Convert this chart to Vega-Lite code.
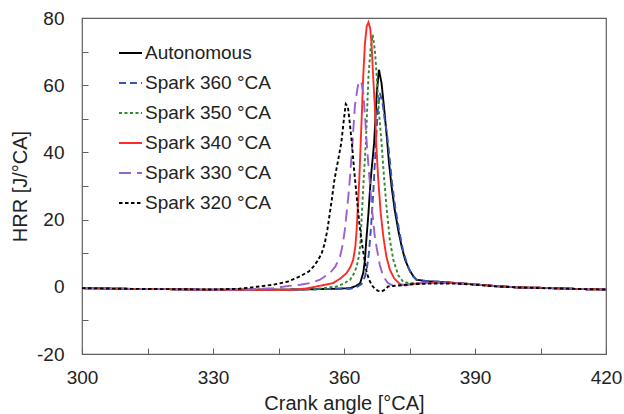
{
  "$schema": "https://vega.github.io/schema/vega-lite/v6.json",
  "width": 524,
  "height": 336,
  "autosize": {"type": "none"},
  "padding": {"left": 82, "top": 18, "right": 18, "bottom": 60},
  "background": "white",
  "config": {
    "font": "Liberation Sans",
    "view": {"stroke": "#606060", "strokeWidth": 1.2},
    "axis": {"grid": false, "domain": false, "tickColor": "#606060", "labelColor": "#222", "titleColor": "#222", "labelFont": "Liberation Sans", "titleFont": "Liberation Sans", "labelFontSize": 19, "titleFontSize": 20, "titleFontWeight": "normal"}
  },
  "data": {"values": [
    {"s": "Autonomous", "x": 300, "y": -0.4}, {"s": "Autonomous", "x": 310, "y": -0.6}, {"s": "Autonomous", "x": 320, "y": -0.7}, {"s": "Autonomous", "x": 330, "y": -0.9}, {"s": "Autonomous", "x": 340, "y": -0.9}, {"s": "Autonomous", "x": 350, "y": -0.8}, {"s": "Autonomous", "x": 358, "y": -0.6}, {"s": "Autonomous", "x": 361.4, "y": -0.4}, {"s": "Autonomous", "x": 362.8, "y": 0.3}, {"s": "Autonomous", "x": 363.7, "y": 1.1}, {"s": "Autonomous", "x": 364.4, "y": 4.1}, {"s": "Autonomous", "x": 364.8, "y": 8}, {"s": "Autonomous", "x": 365.0, "y": 12}, {"s": "Autonomous", "x": 365.6, "y": 21.9}, {"s": "Autonomous", "x": 366.1, "y": 31.8}, {"s": "Autonomous", "x": 366.9, "y": 42.8}, {"s": "Autonomous", "x": 367.5, "y": 57.6}, {"s": "Autonomous", "x": 368.0, "y": 64.6}, {"s": "Autonomous", "x": 368.6, "y": 60.6}, {"s": "Autonomous", "x": 369.2, "y": 53}, {"s": "Autonomous", "x": 369.8, "y": 44.7}, {"s": "Autonomous", "x": 370.3, "y": 37}, {"s": "Autonomous", "x": 370.9, "y": 29.8}, {"s": "Autonomous", "x": 371.6, "y": 23}, {"s": "Autonomous", "x": 372.4, "y": 17}, {"s": "Autonomous", "x": 373.2, "y": 12}, {"s": "Autonomous", "x": 374.0, "y": 8}, {"s": "Autonomous", "x": 375.0, "y": 5}, {"s": "Autonomous", "x": 375.9, "y": 3.1}, {"s": "Autonomous", "x": 376.6, "y": 2.1}, {"s": "Autonomous", "x": 379.7, "y": 1.6}, {"s": "Autonomous", "x": 383, "y": 1.4}, {"s": "Autonomous", "x": 387, "y": 1.0}, {"s": "Autonomous", "x": 391, "y": 0.6}, {"s": "Autonomous", "x": 395, "y": 0.2}, {"s": "Autonomous", "x": 400, "y": -0.2}, {"s": "Autonomous", "x": 405, "y": -0.3}, {"s": "Autonomous", "x": 410, "y": -0.5}, {"s": "Autonomous", "x": 415, "y": -0.7}, {"s": "Autonomous", "x": 420, "y": -0.8},

    {"s": "Spark 360 °CA", "x": 300, "y": -0.4}, {"s": "Spark 360 °CA", "x": 310, "y": -0.6}, {"s": "Spark 360 °CA", "x": 320, "y": -0.7}, {"s": "Spark 360 °CA", "x": 330, "y": -0.9}, {"s": "Spark 360 °CA", "x": 340, "y": -0.9}, {"s": "Spark 360 °CA", "x": 350, "y": -0.8}, {"s": "Spark 360 °CA", "x": 358, "y": -0.6}, {"s": "Spark 360 °CA", "x": 361.5, "y": -0.6}, {"s": "Spark 360 °CA", "x": 363, "y": 0}, {"s": "Spark 360 °CA", "x": 364, "y": 0.8}, {"s": "Spark 360 °CA", "x": 364.8, "y": 3}, {"s": "Spark 360 °CA", "x": 365.3, "y": 6}, {"s": "Spark 360 °CA", "x": 365.7, "y": 10}, {"s": "Spark 360 °CA", "x": 366.2, "y": 18}, {"s": "Spark 360 °CA", "x": 366.7, "y": 28}, {"s": "Spark 360 °CA", "x": 367.2, "y": 40}, {"s": "Spark 360 °CA", "x": 367.7, "y": 52}, {"s": "Spark 360 °CA", "x": 368.2, "y": 57.7}, {"s": "Spark 360 °CA", "x": 368.8, "y": 55}, {"s": "Spark 360 °CA", "x": 369.3, "y": 50}, {"s": "Spark 360 °CA", "x": 369.8, "y": 46}, {"s": "Spark 360 °CA", "x": 370.4, "y": 39}, {"s": "Spark 360 °CA", "x": 371.0, "y": 31}, {"s": "Spark 360 °CA", "x": 371.7, "y": 24}, {"s": "Spark 360 °CA", "x": 372.6, "y": 17}, {"s": "Spark 360 °CA", "x": 373.5, "y": 11}, {"s": "Spark 360 °CA", "x": 374.5, "y": 6.5}, {"s": "Spark 360 °CA", "x": 375.5, "y": 3.5}, {"s": "Spark 360 °CA", "x": 376.5, "y": 2.2}, {"s": "Spark 360 °CA", "x": 378, "y": 1.8}, {"s": "Spark 360 °CA", "x": 382, "y": 1.5}, {"s": "Spark 360 °CA", "x": 387, "y": 1.0}, {"s": "Spark 360 °CA", "x": 391, "y": 0.6}, {"s": "Spark 360 °CA", "x": 395, "y": 0.2}, {"s": "Spark 360 °CA", "x": 400, "y": -0.2}, {"s": "Spark 360 °CA", "x": 405, "y": -0.3}, {"s": "Spark 360 °CA", "x": 410, "y": -0.5}, {"s": "Spark 360 °CA", "x": 415, "y": -0.7}, {"s": "Spark 360 °CA", "x": 420, "y": -0.8},

    {"s": "Spark 350 °CA", "x": 300, "y": -0.4}, {"s": "Spark 350 °CA", "x": 310, "y": -0.6}, {"s": "Spark 350 °CA", "x": 320, "y": -0.7}, {"s": "Spark 350 °CA", "x": 330, "y": -0.9}, {"s": "Spark 350 °CA", "x": 340, "y": -0.9}, {"s": "Spark 350 °CA", "x": 350, "y": -0.8}, {"s": "Spark 350 °CA", "x": 355, "y": -0.5}, {"s": "Spark 350 °CA", "x": 358.3, "y": 0.1}, {"s": "Spark 350 °CA", "x": 360, "y": 1.0}, {"s": "Spark 350 °CA", "x": 361.4, "y": 2.1}, {"s": "Spark 350 °CA", "x": 362.3, "y": 4}, {"s": "Spark 350 °CA", "x": 362.9, "y": 6}, {"s": "Spark 350 °CA", "x": 363.4, "y": 9}, {"s": "Spark 350 °CA", "x": 363.7, "y": 12}, {"s": "Spark 350 °CA", "x": 364.1, "y": 21.9}, {"s": "Spark 350 °CA", "x": 364.5, "y": 31.8}, {"s": "Spark 350 °CA", "x": 365.0, "y": 42.8}, {"s": "Spark 350 °CA", "x": 365.6, "y": 62.6}, {"s": "Spark 350 °CA", "x": 366.1, "y": 71}, {"s": "Spark 350 °CA", "x": 366.6, "y": 75}, {"s": "Spark 350 °CA", "x": 367.1, "y": 70}, {"s": "Spark 350 °CA", "x": 367.5, "y": 62.6}, {"s": "Spark 350 °CA", "x": 368.0, "y": 52}, {"s": "Spark 350 °CA", "x": 368.6, "y": 42.8}, {"s": "Spark 350 °CA", "x": 369.2, "y": 32}, {"s": "Spark 350 °CA", "x": 369.8, "y": 22.9}, {"s": "Spark 350 °CA", "x": 370.5, "y": 14}, {"s": "Spark 350 °CA", "x": 371.3, "y": 8}, {"s": "Spark 350 °CA", "x": 372.4, "y": 3.5}, {"s": "Spark 350 °CA", "x": 373.6, "y": 1.4}, {"s": "Spark 350 °CA", "x": 375.5, "y": 1.1}, {"s": "Spark 350 °CA", "x": 378, "y": 1.2}, {"s": "Spark 350 °CA", "x": 382, "y": 1.3}, {"s": "Spark 350 °CA", "x": 387, "y": 1.0}, {"s": "Spark 350 °CA", "x": 391, "y": 0.6}, {"s": "Spark 350 °CA", "x": 395, "y": 0.2}, {"s": "Spark 350 °CA", "x": 400, "y": -0.2}, {"s": "Spark 350 °CA", "x": 405, "y": -0.3}, {"s": "Spark 350 °CA", "x": 410, "y": -0.5}, {"s": "Spark 350 °CA", "x": 415, "y": -0.7}, {"s": "Spark 350 °CA", "x": 420, "y": -0.8},

    {"s": "Spark 340 °CA", "x": 300, "y": -0.4}, {"s": "Spark 340 °CA", "x": 310, "y": -0.6}, {"s": "Spark 340 °CA", "x": 320, "y": -0.7}, {"s": "Spark 340 °CA", "x": 330, "y": -0.9}, {"s": "Spark 340 °CA", "x": 340, "y": -0.9}, {"s": "Spark 340 °CA", "x": 345, "y": -0.9}, {"s": "Spark 340 °CA", "x": 348, "y": -0.9}, {"s": "Spark 340 °CA", "x": 351.4, "y": -0.5}, {"s": "Spark 340 °CA", "x": 354.5, "y": 0.3}, {"s": "Spark 340 °CA", "x": 357.5, "y": 1.1}, {"s": "Spark 340 °CA", "x": 359.2, "y": 2.5}, {"s": "Spark 340 °CA", "x": 360.6, "y": 4.1}, {"s": "Spark 340 °CA", "x": 361.5, "y": 6}, {"s": "Spark 340 °CA", "x": 362.1, "y": 8}, {"s": "Spark 340 °CA", "x": 362.6, "y": 12}, {"s": "Spark 340 °CA", "x": 362.9, "y": 17}, {"s": "Spark 340 °CA", "x": 363.3, "y": 26.9}, {"s": "Spark 340 °CA", "x": 363.5, "y": 31.8}, {"s": "Spark 340 °CA", "x": 363.8, "y": 42}, {"s": "Spark 340 °CA", "x": 364.1, "y": 52}, {"s": "Spark 340 °CA", "x": 364.4, "y": 62.6}, {"s": "Spark 340 °CA", "x": 364.8, "y": 72.5}, {"s": "Spark 340 °CA", "x": 365.2, "y": 77.5}, {"s": "Spark 340 °CA", "x": 365.6, "y": 78.7}, {"s": "Spark 340 °CA", "x": 366.0, "y": 77}, {"s": "Spark 340 °CA", "x": 366.3, "y": 72.5}, {"s": "Spark 340 °CA", "x": 366.7, "y": 62}, {"s": "Spark 340 °CA", "x": 367.1, "y": 52.7}, {"s": "Spark 340 °CA", "x": 367.4, "y": 42}, {"s": "Spark 340 °CA", "x": 367.8, "y": 32.8}, {"s": "Spark 340 °CA", "x": 368.4, "y": 22}, {"s": "Spark 340 °CA", "x": 369.0, "y": 15}, {"s": "Spark 340 °CA", "x": 369.7, "y": 9}, {"s": "Spark 340 °CA", "x": 370.5, "y": 5.1}, {"s": "Spark 340 °CA", "x": 371.5, "y": 2.5}, {"s": "Spark 340 °CA", "x": 372.8, "y": 0.8}, {"s": "Spark 340 °CA", "x": 374, "y": 0.4}, {"s": "Spark 340 °CA", "x": 376, "y": 0.9}, {"s": "Spark 340 °CA", "x": 380, "y": 1.2}, {"s": "Spark 340 °CA", "x": 384, "y": 1.2}, {"s": "Spark 340 °CA", "x": 387, "y": 1.0}, {"s": "Spark 340 °CA", "x": 391, "y": 0.6}, {"s": "Spark 340 °CA", "x": 395, "y": 0.2}, {"s": "Spark 340 °CA", "x": 400, "y": -0.2}, {"s": "Spark 340 °CA", "x": 405, "y": -0.3}, {"s": "Spark 340 °CA", "x": 410, "y": -0.5}, {"s": "Spark 340 °CA", "x": 415, "y": -0.7}, {"s": "Spark 340 °CA", "x": 420, "y": -0.8},

    {"s": "Spark 330 °CA", "x": 300, "y": -0.4}, {"s": "Spark 330 °CA", "x": 310, "y": -0.6}, {"s": "Spark 330 °CA", "x": 320, "y": -0.7}, {"s": "Spark 330 °CA", "x": 330, "y": -0.9}, {"s": "Spark 330 °CA", "x": 338, "y": -0.8}, {"s": "Spark 330 °CA", "x": 343.8, "y": -0.4}, {"s": "Spark 330 °CA", "x": 347, "y": 0.2}, {"s": "Spark 330 °CA", "x": 350, "y": 0.6}, {"s": "Spark 330 °CA", "x": 352.5, "y": 1.2}, {"s": "Spark 330 °CA", "x": 354.5, "y": 2.1}, {"s": "Spark 330 °CA", "x": 356.8, "y": 4.1}, {"s": "Spark 330 °CA", "x": 358, "y": 6}, {"s": "Spark 330 °CA", "x": 359.1, "y": 9}, {"s": "Spark 330 °CA", "x": 359.7, "y": 12.5}, {"s": "Spark 330 °CA", "x": 360.2, "y": 17}, {"s": "Spark 330 °CA", "x": 360.6, "y": 22}, {"s": "Spark 330 °CA", "x": 361.0, "y": 27}, {"s": "Spark 330 °CA", "x": 361.4, "y": 33}, {"s": "Spark 330 °CA", "x": 361.9, "y": 42}, {"s": "Spark 330 °CA", "x": 362.5, "y": 54}, {"s": "Spark 330 °CA", "x": 363.2, "y": 60}, {"s": "Spark 330 °CA", "x": 363.9, "y": 61.3}, {"s": "Spark 330 °CA", "x": 364.4, "y": 58}, {"s": "Spark 330 °CA", "x": 364.8, "y": 51}, {"s": "Spark 330 °CA", "x": 365.2, "y": 43}, {"s": "Spark 330 °CA", "x": 365.6, "y": 36}, {"s": "Spark 330 °CA", "x": 366.0, "y": 29.8}, {"s": "Spark 330 °CA", "x": 366.5, "y": 22}, {"s": "Spark 330 °CA", "x": 367.0, "y": 15.5}, {"s": "Spark 330 °CA", "x": 367.5, "y": 11.5}, {"s": "Spark 330 °CA", "x": 368.2, "y": 6.5}, {"s": "Spark 330 °CA", "x": 369.0, "y": 3.1}, {"s": "Spark 330 °CA", "x": 370, "y": 1.2}, {"s": "Spark 330 °CA", "x": 371.3, "y": 0.3}, {"s": "Spark 330 °CA", "x": 373, "y": 0.5}, {"s": "Spark 330 °CA", "x": 376, "y": 1.0}, {"s": "Spark 330 °CA", "x": 380, "y": 1.2}, {"s": "Spark 330 °CA", "x": 384, "y": 1.2}, {"s": "Spark 330 °CA", "x": 387, "y": 1.0}, {"s": "Spark 330 °CA", "x": 391, "y": 0.6}, {"s": "Spark 330 °CA", "x": 395, "y": 0.2}, {"s": "Spark 330 °CA", "x": 400, "y": -0.2}, {"s": "Spark 330 °CA", "x": 405, "y": -0.3}, {"s": "Spark 330 °CA", "x": 410, "y": -0.5}, {"s": "Spark 330 °CA", "x": 415, "y": -0.7}, {"s": "Spark 330 °CA", "x": 420, "y": -0.8},

    {"s": "Spark 320 °CA", "x": 300, "y": -0.4}, {"s": "Spark 320 °CA", "x": 310, "y": -0.6}, {"s": "Spark 320 °CA", "x": 320, "y": -0.7}, {"s": "Spark 320 °CA", "x": 330, "y": -0.8}, {"s": "Spark 320 °CA", "x": 336, "y": -0.6}, {"s": "Spark 320 °CA", "x": 340, "y": 0.0}, {"s": "Spark 320 °CA", "x": 343.7, "y": 0.6}, {"s": "Spark 320 °CA", "x": 347, "y": 1.5}, {"s": "Spark 320 °CA", "x": 349.9, "y": 3.1}, {"s": "Spark 320 °CA", "x": 352, "y": 4.6}, {"s": "Spark 320 °CA", "x": 353, "y": 6}, {"s": "Spark 320 °CA", "x": 354, "y": 7.8}, {"s": "Spark 320 °CA", "x": 354.9, "y": 10}, {"s": "Spark 320 °CA", "x": 355.6, "y": 13}, {"s": "Spark 320 °CA", "x": 356.2, "y": 17}, {"s": "Spark 320 °CA", "x": 357.2, "y": 25.9}, {"s": "Spark 320 °CA", "x": 357.8, "y": 31.8}, {"s": "Spark 320 °CA", "x": 358.7, "y": 38}, {"s": "Spark 320 °CA", "x": 359.4, "y": 43}, {"s": "Spark 320 °CA", "x": 359.9, "y": 49}, {"s": "Spark 320 °CA", "x": 360.4, "y": 54.4}, {"s": "Spark 320 °CA", "x": 360.9, "y": 53.5}, {"s": "Spark 320 °CA", "x": 361.3, "y": 49}, {"s": "Spark 320 °CA", "x": 361.8, "y": 42.8}, {"s": "Spark 320 °CA", "x": 362.3, "y": 35}, {"s": "Spark 320 °CA", "x": 362.9, "y": 26.9}, {"s": "Spark 320 °CA", "x": 363.5, "y": 19}, {"s": "Spark 320 °CA", "x": 364.1, "y": 13}, {"s": "Spark 320 °CA", "x": 364.7, "y": 8}, {"s": "Spark 320 °CA", "x": 365.2, "y": 4.2}, {"s": "Spark 320 °CA", "x": 365.8, "y": 2}, {"s": "Spark 320 °CA", "x": 366.3, "y": 0.6}, {"s": "Spark 320 °CA", "x": 367, "y": -0.5}, {"s": "Spark 320 °CA", "x": 367.8, "y": -1.2}, {"s": "Spark 320 °CA", "x": 368.6, "y": -1.4}, {"s": "Spark 320 °CA", "x": 369.4, "y": -0.8}, {"s": "Spark 320 °CA", "x": 370.1, "y": 0.1}, {"s": "Spark 320 °CA", "x": 371.7, "y": 0.3}, {"s": "Spark 320 °CA", "x": 375, "y": 0.7}, {"s": "Spark 320 °CA", "x": 380, "y": 1.0}, {"s": "Spark 320 °CA", "x": 384, "y": 1.0}, {"s": "Spark 320 °CA", "x": 387, "y": 0.9}, {"s": "Spark 320 °CA", "x": 391, "y": 0.5}, {"s": "Spark 320 °CA", "x": 395, "y": 0.1}, {"s": "Spark 320 °CA", "x": 400, "y": -0.2}, {"s": "Spark 320 °CA", "x": 405, "y": -0.4}, {"s": "Spark 320 °CA", "x": 410, "y": -0.5}, {"s": "Spark 320 °CA", "x": 415, "y": -0.7}, {"s": "Spark 320 °CA", "x": 420, "y": -0.8}
  ]},
  "mark": {"type": "line", "strokeWidth": 1.9, "clip": true},
  "encoding": {
    "x": {"field": "x", "type": "quantitative", "scale": {"domain": [300, 420], "nice": false, "zero": false},
      "axis": {"title": "Crank angle [°CA]", "values": [300, 315, 330, 345, 360, 375, 390, 405, 420], "labelExpr": "datum.value % 30 == 0 ? '' + datum.value : ''", "tickSize": -6, "labelPadding": 20, "titlePadding": 6, "labelFlush": false, "labelOverlap": false}},
    "y": {"field": "y", "type": "quantitative", "scale": {"domain": [-20, 80], "nice": false, "zero": false},
      "axis": {"title": "HRR [J/°CA]", "values": [-20, -10, 0, 10, 20, 30, 40, 50, 60, 70, 80], "labelExpr": "datum.value % 20 == 0 ? '' + datum.value : ''", "tickSize": -6, "labelPadding": 24, "titleX": -56, "titleBaseline": "alphabetic", "labelOverlap": false}},
    "color": {"field": "s", "type": "nominal",
      "scale": {"domain": ["Autonomous", "Spark 360 °CA", "Spark 350 °CA", "Spark 340 °CA", "Spark 330 °CA", "Spark 320 °CA"], "range": ["#000000", "#3355b5", "#2e8b2e", "#ff2a2a", "#9b5fd0", "#000000"]},
      "legend": {"title": null, "orient": "none", "legendX": 36, "legendY": 20, "symbolType": "stroke", "symbolSize": 529, "symbolStrokeWidth": 1.9, "clipHeight": 30, "rowPadding": 0, "labelOffset": 2, "labelFontSize": 19, "labelFont": "Liberation Sans", "labelColor": "#222", "padding": 0, "labelLimit": 300}},
    "strokeDash": {"field": "s", "type": "nominal",
      "scale": {"domain": ["Autonomous", "Spark 360 °CA", "Spark 350 °CA", "Spark 340 °CA", "Spark 330 °CA", "Spark 320 °CA"], "range": [[1, 0], [7, 4], [3, 2.5], [1, 0], [12, 6], [3.5, 2.5]]},
      "legend": {"title": null, "orient": "none", "legendX": 36, "legendY": 20, "symbolType": "stroke", "symbolSize": 529, "symbolStrokeWidth": 1.9, "clipHeight": 30, "rowPadding": 0, "labelOffset": 2, "labelFontSize": 19, "labelFont": "Liberation Sans", "labelColor": "#222", "padding": 0, "labelLimit": 300}}
  }
}
